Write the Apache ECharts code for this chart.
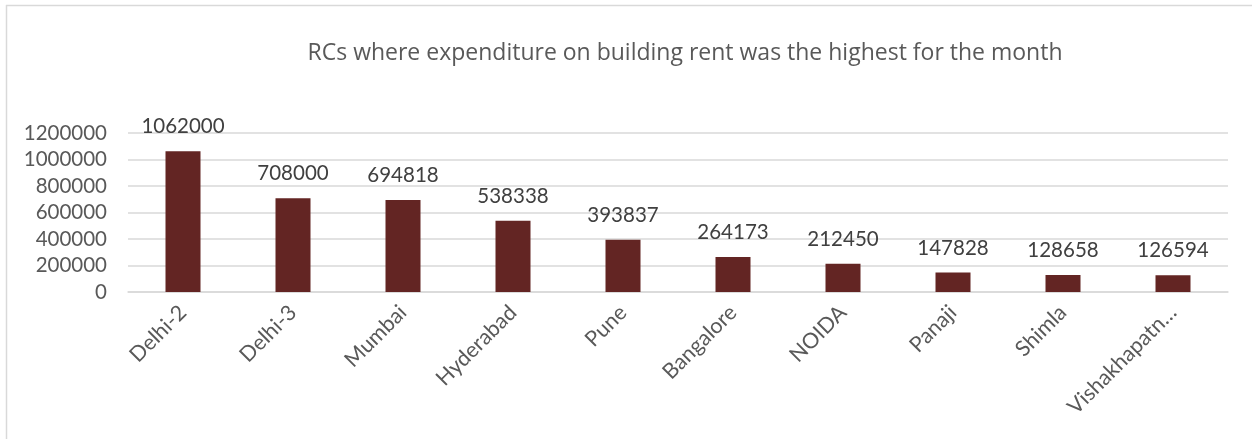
<!DOCTYPE html>
<html>
<head>
<meta charset="utf-8">
<script src="https://cdn.jsdelivr.net/npm/echarts@6/dist/echarts.min.js"></script>
<style>
html,body{margin:0;padding:0;background:#fff;}
#chart{width:1252px;height:439px;}
</style>
</head>
<body>
<div id="chart"></div>
<script>
const titleText = 'RCs where expenditure on building rent was the highest for the month';
const categories = ['Delhi-2','Delhi-3','Mumbai','Hyderabad','Pune','Bangalore','NOIDA','Panaji','Shimla','Vishakhapatnam'];
const values = [1062000,708000,694818,538338,393837,264173,212450,147828,128658,126594];

const FONT = 'Lato';
const chart = echarts.init(document.getElementById('chart'), null, {renderer:'canvas'});
chart.setOption({
  animation:false,
  backgroundColor:'#fff',
  title:{
    text:titleText,
    left:680, top:37, textAlign:'center',
    textStyle:{fontFamily:'Open Sans',fontSize:23,fontWeight:'normal',color:'#595959'}
  },
  graphic:[
    {type:'line',shape:{x1:6,y1:5.5,x2:1252,y2:5.5},style:{stroke:'#d9d9d9',lineWidth:1.5}},
    {type:'line',shape:{x1:6.5,y1:5,x2:6.5,y2:439},style:{stroke:'#d9d9d9',lineWidth:1.5}}
  ],
  grid:{left:128,right:24,top:133,bottom:147,containLabel:false},
  xAxis:{
    type:'category',
    data:categories,
    axisLine:{show:true,lineStyle:{color:'#d9d9d9',width:1.5}},
    axisTick:{show:false},
    axisLabel:{
      rotate:45,margin:17,interval:0,
      fontFamily:FONT,fontSize:21.5,color:'#595959',
      formatter:function(v){return v.length>12 ? v.slice(0,12)+'…' : v;}
    }
  },
  yAxis:{
    type:'value',min:0,max:1200000,interval:200000,
    axisLine:{show:false},axisTick:{show:false},
    splitLine:{lineStyle:{color:'#d9d9d9',width:1.5}},
    axisLabel:{fontFamily:FONT,fontSize:20.5,color:'#595959',margin:21,
      formatter:function(v){return String(v);}}
  },
  series:[{
    type:'bar',
    data:values,
    barWidth:35,
    itemStyle:{color:'#632523'},
    label:{show:true,position:'top',distance:14,fontFamily:FONT,fontSize:20.5,color:'#404040'}
  }]
});
</script>
</body>
</html>
